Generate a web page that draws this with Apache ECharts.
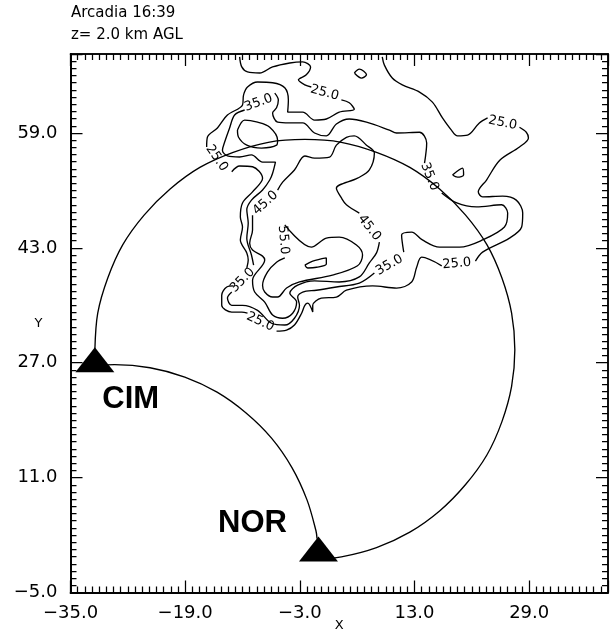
<!DOCTYPE html>
<html>
<head>
<meta charset="utf-8">
<style>html,body{margin:0;padding:0;background:#fff}#c{width:613px;height:630px}</style>
<script src="https://cdn.jsdelivr.net/npm/echarts@6/dist/echarts.min.js"></script>
</head>
<body>
<div id="c"></div>
<script>
const xTickValues = [-35, -19, -3, 13, 29];
const xTickLabels = ['\u221235.0', '\u221219.0', '\u22123.0', '13.0', '29.0'];
const yTickValues = [-5, 11, 27, 43, 59];
const yTickLabels = ['\u22125.0', '11.0', '27.0', '43.0', '59.0'];

// lobe arcs between the radars
const arcUpper = [[-31.6,28.8],[-31.2,33.9],[-29.8,38.8],[-27.7,43.45],[-24.7,47.6],[-21.1,51.2],[-16.95,54.2],[-12.3,56.3],[-7.4,57.7],[-2.3,58.1],[2.8,57.7],[7.7,56.3],[12.35,54.2],[16.5,51.2],[20.1,47.6],[23.1,43.45],[25.2,38.8],[26.55,33.9],[27,28.8],[26.55,23.7],[25.2,18.8],[23.1,14.15],[20.1,10],[16.5,6.35],[12.35,3.4],[7.7,1.25],[2.8,-0.05],[-0.8,-0.45]];
const arcLower = [[-30,26.7],[-28.85,26.73],[-23.9,26.3],[-19.05,25.0],[-14.55,22.9],[-10.5,20.0],[-6.95,16.5],[-4.1,12.4],[-2.0,7.9],[-0.75,3.6],[-0.6,2.5]];

// contour segments, broken where a value label sits
const c25a = [[-11.4,69.6],[-11.1,68.2],[-10.3,67.5],[-8.6,67.35],[-6.8,68.2],[-4.4,68.75],[-2.6,68.9],[-1.5,68.2],[-2.1,67.1],[-3.2,66.4],[-2.3,65.7],[-1.4,65.4]];
const c25b = [[2.8,63.6],[3.9,63.2],[4.6,62.3],[2.5,61.9],[0.7,60.95],[-0.95,60.8],[-2.6,61.9],[-4.7,61.9],[-4.6,63.6],[-5.1,65.3],[-6.8,66.0],[-8.9,66.1],[-10.3,65.4],[-10.85,64.3],[-11.0,62.9],[-13.1,61.5],[-14.5,59.7],[-15.9,58.4],[-16.0,57.05]];
const c25c = [[-12.5,53.6],[-11.4,54.4],[-9.6,54.3],[-8.2,52.7],[-9.6,50.8],[-11.0,49.25],[-11.3,47.3],[-11.0,45.9],[-11.3,44.1],[-10.4,42.3],[-10.2,41.3],[-10.4,40.2]];
const c25d = [[-12.25,37.7],[-13.2,37.55],[-13.9,36.4],[-13.9,35.0],[-12.5,34.05],[-11.1,34.05],[-10.3,33.9]];
const c25e = [[-6.25,31.4],[-4.85,31.55],[-3.75,32.25],[-2.75,33.9],[-2.3,35.0],[-1.9,35.3],[-1.2,34.05],[-1.2,35.0],[0.0,36.0],[2.1,36.15],[3.5,37.1],[7.15,37.7],[10.5,37.4],[12.6,38.25],[13.3,40.3],[14.0,41.7],[16.8,40.5]];
const c25f = [[21.5,41.15],[22.5,42.4],[26.25,44.35],[27.95,45.9],[28.1,47.85],[27.2,49.65],[25.3,50.2],[22.5,50.1],[21.9,50.8],[23.05,52.45],[24.9,55.2],[27.65,57.05],[28.9,58.3],[28.6,59.1],[27.65,59.8]];
const c25g = [[23.2,61.1],[22.05,60.4],[20.4,58.7],[19.0,58.6],[18.15,59.4],[16.9,61.1],[15.5,63.3],[13.7,64.7],[11.3,65.7],[9.9,66.65],[8.8,68.45],[8.5,69.6]];
const c25islandA = [[4.6,67.35],[5.3,67.9],[6.3,67.1],[5.6,66.65],[4.6,67.35]];
const c25islandB = [[18.3,53.15],[19.7,54.1],[19.85,53.15],[19.0,52.85],[18.3,53.15]];
const c35a = [[-6.5,64.55],[-6.0,63.6],[-6.25,62.5],[-6.8,61.8],[-6.1,60.5],[-4.4,60.4],[-2.6,60.4],[-0.95,59.0],[0.7,58.6],[2.1,60.25],[3.9,60.95],[6.3,60.5],[9.5,59.4],[10.5,59.0],[13.7,59.1],[14.7,57.6],[14.4,54.8]];
const c35b = [[16.8,50.65],[18.9,49.25],[21.65,48.7],[25.15,49.0],[26.0,47.85],[25.55,45.9],[22.5,44.1],[19.3,43.1],[16.5,43.1],[14.1,44.1],[12.6,45.2],[11.2,44.8],[11.5,42.4]];
const c35c = [[7.4,39.5],[5.3,38.1],[2.1,37.55],[-0.7,37.1],[-2.6,36.85],[-3.3,36.15],[-3.05,35.0],[-3.75,33.2],[-5.1,32.25],[-6.95,32.5],[-8.9,34.3],[-11.0,35.0],[-12.5,35.0],[-13.1,36.0],[-12.5,36.85]];
const c35d = [[-9.45,40.6],[-9.75,42.0],[-10.4,44.35],[-10.2,46.45],[-10.4,48.3],[-9.75,49.65],[-8.2,51.05],[-7.2,52.45],[-6.8,53.4],[-6.4,54.95],[-8.2,54.95],[-9.75,55.95],[-11.4,55.65],[-13.1,55.8],[-13.8,56.6],[-13.5,57.7],[-12.8,59.7],[-12.1,61.5],[-10.7,62.2]];
const c35island = [[-11.7,59.4],[-10.7,60.8],[-8.9,60.5],[-7.2,59.8],[-6.1,58.0],[-6.25,57.3],[-8.35,56.9],[-10.4,57.3],[-11.55,58.4],[-11.7,59.4]];
const c45a = [[-6.1,51.05],[-5.4,52.15],[-3.75,53.85],[-2.3,55.8],[-0.95,55.5],[1.15,55.65],[2.1,57.3],[3.5,58.4],[4.6,58.6],[6.3,57.3],[7.4,56.2],[6.7,53.85],[5.05,52.7],[2.1,51.3],[2.8,49.95],[3.5,49.0],[5.3,47.85]];
const c45b = [[8.1,43.8],[7.7,42.3],[6.7,40.9],[5.3,38.95],[2.5,38.25],[-0.95,38.4],[-3.3,37.8],[-4.4,36.7],[-3.45,35.45],[-4.0,33.9],[-5.4,33.2],[-6.8,33.65],[-7.9,35.45],[-9.3,36.85],[-9.6,38.5],[-7.9,41.3],[-8.2,41.85],[-9.6,42.7],[-10.0,43.65],[-9.6,45.5],[-9.6,47.55]];
const c55a = [[-5.1,41.6],[-6.25,41.0],[-7.5,39.65],[-8.2,37.8],[-7.9,36.85],[-6.8,36.15],[-6.1,36.15],[-4.85,37.4],[-3.05,38.25],[1.55,39.2],[5.05,40.5],[5.75,42.0],[4.9,43.4],[2.5,44.5],[0.7,44.35],[-1.4,43.1],[-5.1,46.2]];
const c55island = [[-2.3,40.6],[-1.2,41.15],[0.7,41.6],[0.7,40.75],[-0.65,40.3],[-1.9,40.2],[-2.3,40.6]];

const contourSegments = [c25a,c25b,c25c,c25d,c25e,c25f,c25g,c25islandA,c25islandB,c35a,c35b,c35c,c35d,c35island,c45a,c45b,c55a,c55island];

const contourLabelText = ['25.0','35.0','25.0','25.0','35.0','45.0','45.0','55.0','35.0','25.0','35.0','25.0'];
const contourLabelX = [0.45,-8.76,-14.6,25.3,15.1,-7.8,6.7,-5.3,9.5,18.9,-11,-8.5];
const contourLabelY = [64.6,63.2,55.5,60.4,52.9,49.25,45.8,44.1,40.6,40.8,38.5,32.7];
const contourLabelAngle = [-15,20,-55,-12,-68,42,-52,-85,30,5,45,-25];

const radarNames = ['CIM','NOR'];
const radarX = [-31.6,-0.4];
const radarY = [27.4,1.05];
const radarLabelX = [-26.6,-9.6];
const radarLabelY = [21.95,4.55];

const INK = '#000';
const FONT = '"DejaVu Sans"';
const lookup = (vals, labels) => v => { const i = vals.indexOf(v); return i < 0 ? '' : labels[i]; };
const line = {onZero:false, lineStyle:{color:INK, width:1.5}};

// the axis the marks use: data range, labels, name; its ticks are drawn by the tick axes below
function xMain() {
  return {
    type:'value', min:-35, max:40, position:'bottom', axisLine:line, splitLine:{show:false}, axisTick:{show:false},
    axisLabel:{show:true, customValues:xTickValues, formatter:lookup(xTickValues,xTickLabels), color:INK, fontFamily:FONT, fontSize:18, margin:12},
    name:'X', nameLocation:'middle', nameGap:27, nameMoveOverlap:false,
    nameTextStyle:{color:INK, fontFamily:FONT, fontSize:13}
  };
}
function yMain() {
  return {
    type:'value', min:-5, max:70, position:'left', axisLine:line, splitLine:{show:false}, axisTick:{show:false},
    axisLabel:{show:true, customValues:yTickValues, formatter:lookup(yTickValues,yTickLabels), color:INK, fontFamily:FONT, fontSize:18, margin:13, padding:[4,0,0,0]},
    name:'Y', nameLocation:'middle', nameGap:28, nameRotate:0, nameMoveOverlap:false,
    nameTextStyle:{color:INK, fontFamily:FONT, fontSize:13, padding:[0,0,8,0]}
  };
}
// tick-only axes: span 75 units counted from the frame corner; every 16 = major, every 1 = minor
function tickAxis(position, step, length) {
  return {
    type:'value', min:0, max:75, interval:step, position, axisLine:line, splitLine:{show:false},
    axisTick:{show:true, inside:true, length, lineStyle:{color:INK, width:1.25}}, axisLabel:{show:false}
  };
}

const lineSeries = data => ({type:'line', data, xAxisIndex:0, yAxisIndex:0, smooth:0.33, showSymbol:false, symbol:'none', silent:true, animation:false, lineStyle:{color:INK, width:1.35}});

const series = [arcUpper, arcLower, ...contourSegments].map(lineSeries);
series.push({
  type:'scatter', symbol:'circle', symbolSize:0, silent:true, animation:false, clip:false,
  itemStyle:{opacity:1},
  data: contourLabelText.map((t,i) => ({
    value:[contourLabelX[i], contourLabelY[i]],
    label:{show:true, position:'inside', formatter:t, rotate:contourLabelAngle[i], color:INK, fontFamily:FONT, fontSize:13, opacity:1}
  }))
});
series.push({
  type:'scatter', symbol:'triangle', symbolSize:[39,25], silent:true, animation:false, z:5, clip:false,
  itemStyle:{color:'#000', opacity:1},
  data: radarX.map((x,i) => [x, radarY[i]])
});
series.push({
  type:'scatter', symbol:'circle', symbolSize:0, silent:true, animation:false, clip:false,
  itemStyle:{opacity:1},
  data: radarNames.map((t,i) => ({
    value:[radarLabelX[i], radarLabelY[i]],
    label:{show:true, position:'inside', formatter:t, color:'#000', fontFamily:'"Liberation Sans"', fontWeight:'bold', fontSize:31, opacity:1}
  }))
});

const chart = echarts.init(document.getElementById('c'), null, {renderer:'canvas'});
chart.setOption({
  animation:false,
  backgroundColor:'#fff',
  title:[
    {text:'Arcadia 16:39', left:71, top:6, padding:0, textStyle:{color:INK, fontFamily:FONT, fontWeight:'normal', fontSize:15}},
    {text:'z= 2.0 km AGL', left:71, top:28, padding:0, textStyle:{color:INK, fontFamily:FONT, fontWeight:'normal', fontSize:15}}
  ],
  grid:{left:70.5, right:5, top:54, bottom:37.5, containLabel:false, outerBoundsMode:'none'},
  xAxis:[xMain(), tickAxis('bottom',16,12), tickAxis('bottom',1,6), tickAxis('top',16,12), tickAxis('top',1,6)],
  yAxis:[yMain(), tickAxis('left',16,12), tickAxis('left',1,6), tickAxis('right',16,12), tickAxis('right',1,6)],
  series
});
</script>
</body>
</html>
